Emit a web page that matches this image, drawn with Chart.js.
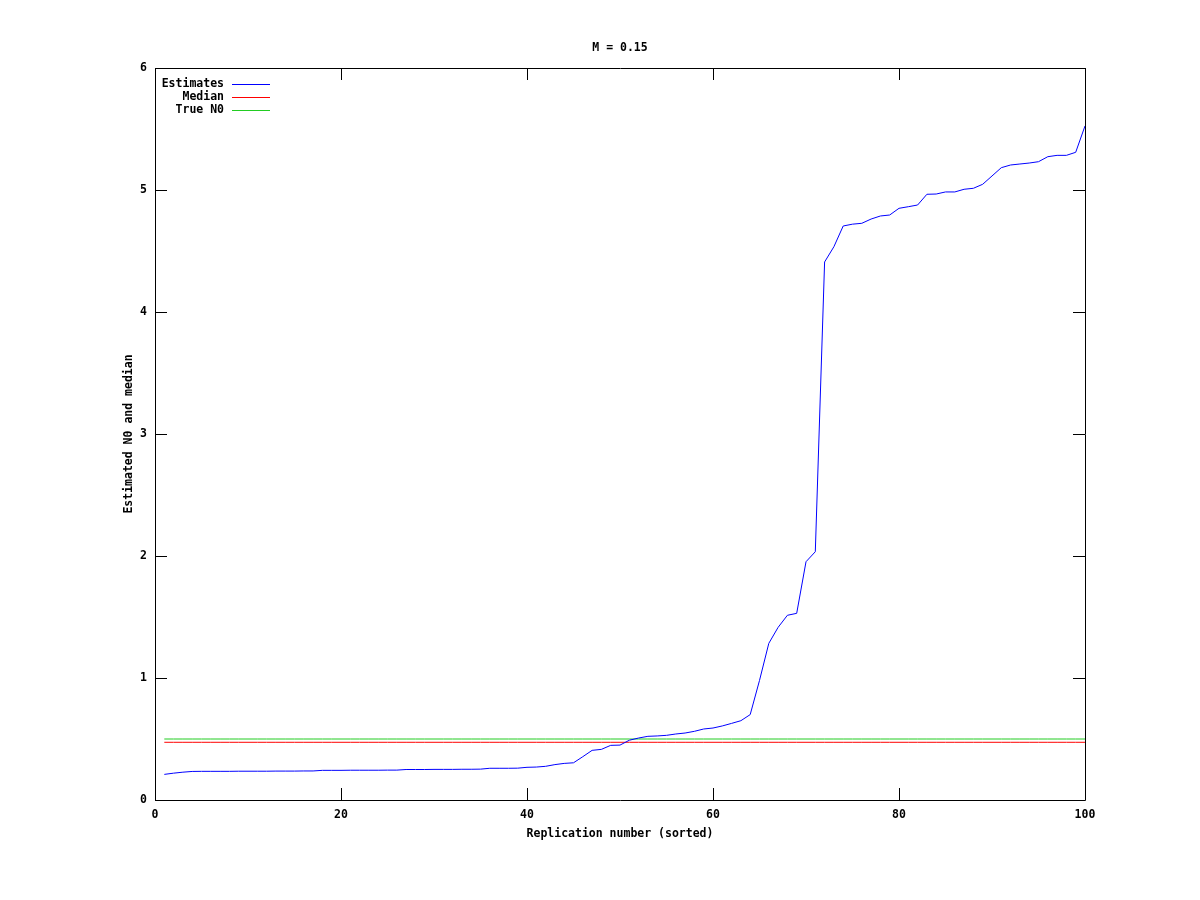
<!DOCTYPE html>
<html>
<head>
<meta charset="utf-8">
<script src="https://cdn.jsdelivr.net/npm/chart.js@4/dist/chart.umd.min.js"></script>
<style>
  body { margin: 0; background: #fff; }
  canvas { display: block; }
</style>
</head>
<body>
<canvas id="chart" width="1200" height="900"></canvas>
<script>
// sorted estimates of N0, replications 1..100
const estimates = [
    0.21, 0.22, 0.228, 0.234, 0.235, 0.235, 0.235, 0.235, 0.236, 0.236,
    0.236, 0.236, 0.237, 0.237, 0.237, 0.238, 0.238, 0.243, 0.243, 0.243,
    0.244, 0.244, 0.244, 0.244, 0.245, 0.245, 0.25, 0.25, 0.25, 0.251,
    0.251, 0.251, 0.252, 0.252, 0.253, 0.26, 0.26, 0.26, 0.261, 0.268,
    0.27, 0.276, 0.29, 0.30, 0.305, 0.355, 0.407, 0.415, 0.448, 0.45,
    0.49, 0.508, 0.522, 0.525, 0.53, 0.541, 0.549, 0.563, 0.582, 0.59,
    0.607, 0.628, 0.65, 0.70, 0.98, 1.284, 1.415, 1.514, 1.53, 1.953,
    2.035, 4.41, 4.535, 4.705, 4.72, 4.727, 4.762, 4.787, 4.795, 4.85,
    4.863, 4.877, 4.965, 4.967, 4.984, 4.984, 5.006, 5.014, 5.047, 5.115,
    5.183, 5.205, 5.213, 5.221, 5.232, 5.273, 5.284, 5.284, 5.309, 5.525
]
const replications = estimates.map((v, i) => i + 1)
const medianValue = 0.473
const trueN0 = 0.5

const titleText = 'M = 0.15'
const xLabel = 'Replication number (sorted)'
const yLabel = 'Estimated N0 and median'
const seriesNames = ['Estimates', 'Median', 'True N0']
const seriesColors = ['#0000ff', '#ff0000', '#22cc22']

const FONT_SIZE = 11.5
const FONT = 'bold ' + FONT_SIZE + 'px "DejaVu Sans Mono", "Liberation Mono", monospace'
const fontOpts = { family: '"DejaVu Sans Mono"', size: FONT_SIZE, weight: 'bold' }

function points(values) {
    return replications.map((x, i) => ({ x: x, y: values[i] }))
}

// gnuplot-like frame: box, inward ticks on all four sides, title, key
const framePlugin = {
    id: 'frame',
    afterDraw(chart) {
        const ctx = chart.ctx
        const a = chart.chartArea
        const xs = chart.scales.x
        const ys = chart.scales.y
        const tick = 12
        ctx.save()
        ctx.strokeStyle = '#000'
        ctx.lineWidth = 1
        ctx.beginPath()
        ctx.rect(Math.round(a.left) + 0.5, Math.round(a.top) + 0.5,
                 Math.round(a.right - a.left), Math.round(a.bottom - a.top))
        xs.ticks.forEach(t => {
            const px = Math.round(xs.getPixelForValue(t.value)) + 0.5
            ctx.moveTo(px, a.bottom); ctx.lineTo(px, a.bottom - tick)
            ctx.moveTo(px, a.top); ctx.lineTo(px, a.top + tick)
        })
        ys.ticks.forEach(t => {
            const py = Math.round(ys.getPixelForValue(t.value)) + 0.5
            ctx.moveTo(a.left, py); ctx.lineTo(a.left + tick, py)
            ctx.moveTo(a.right, py); ctx.lineTo(a.right - tick, py)
        })
        ctx.stroke()

        ctx.fillStyle = '#000'
        ctx.font = FONT
        ctx.textBaseline = 'middle'
        ctx.textAlign = 'center'
        ctx.fillText(titleText, (a.left + a.right) / 2, 48)

        // key
        ctx.textAlign = 'right'
        seriesNames.forEach((name, i) => {
            const y = 84 + i * 13
            ctx.fillStyle = '#000'
            ctx.fillText(name, 224, y)
            ctx.strokeStyle = seriesColors[i]
            ctx.beginPath()
            ctx.moveTo(232, y + 0.5)
            ctx.lineTo(270, y + 0.5)
            ctx.stroke()
        })
        ctx.restore()
    }
}

const chart = new Chart(document.getElementById('chart').getContext('2d'), {
    type: 'line',
    data: {
        datasets: [
            {
                label: seriesNames[0],
                data: points(estimates),
                borderColor: seriesColors[0],
                borderWidth: 1,
                pointRadius: 0,
                tension: 0
            },
            {
                label: seriesNames[1],
                data: points(replications.map(() => medianValue)),
                borderColor: seriesColors[1],
                borderWidth: 1,
                pointRadius: 0
            },
            {
                label: seriesNames[2],
                data: points(replications.map(() => trueN0)),
                borderColor: seriesColors[2],
                borderWidth: 1,
                pointRadius: 0
            }
        ]
    },
    options: {
        responsive: false,
        animation: false,
        layout: { padding: { left: 0, top: 68, right: 115, bottom: 0 } },
        plugins: {
            legend: { display: false },
            tooltip: { enabled: false }
        },
        scales: {
            x: {
                type: 'linear',
                min: 0,
                max: 100,
                grid: { display: false, drawTicks: false },
                border: { display: false },
                ticks: { stepSize: 20, color: '#000', font: fontOpts, padding: 8, maxRotation: 0 },
                title: {
                    display: true,
                    text: xLabel,
                    color: '#000',
                    font: fontOpts,
                    padding: { top: 0, bottom: 59 }
                },
                afterFit(scale) { scale.height = 100 }
            },
            y: {
                min: 0,
                max: 6,
                grid: { display: false, drawTicks: false },
                border: { display: false },
                ticks: { stepSize: 1, color: '#000', font: fontOpts, padding: 8 },
                title: {
                    display: true,
                    text: yLabel,
                    color: '#000',
                    font: fontOpts,
                    padding: { top: 122, bottom: 0 }
                },
                afterFit(scale) { scale.width = 155 }
            }
        }
    },
    plugins: [framePlugin]
})
</script>
</body>
</html>
